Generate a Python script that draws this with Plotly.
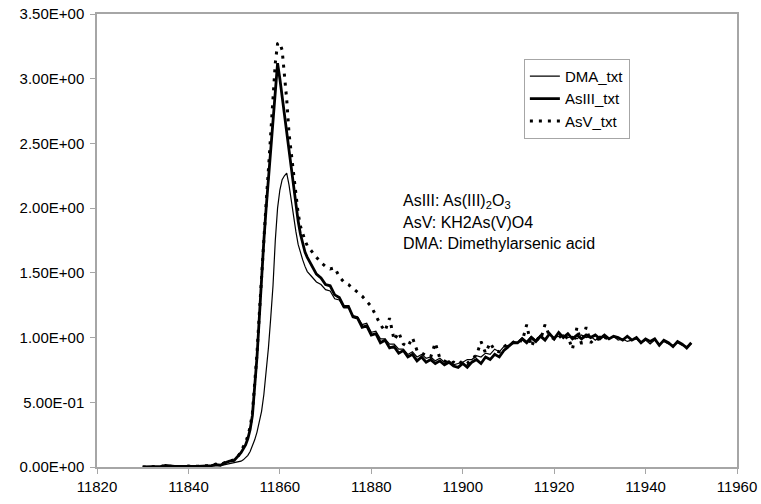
import numpy as np
import plotly.graph_objects as go

# Energy grid (eV): coarse pre-edge, fine edge region, 1 eV post-edge
energy_pre = np.arange(11830, 11852, 1.0)          # 11830 .. 11851
energy_edge = np.arange(11851.5, 11866.01, 0.5)   # 11851.5 .. 11866
energy_post = np.arange(11867, 11951, 1.0)         # 11867 .. 11950
energy = np.concatenate([energy_pre, energy_edge, energy_post])

# Normalised absorption, DMA standard
dma_pre = [0.000, 0.001, 0.002, 0.002, 0.003, 0.008, 0.004, 0.003, 0.004, 0.003, 0.005,
           0.004, 0.004, 0.006, 0.005, 0.008, 0.012, 0.010, 0.018, 0.025, 0.030, 0.038]
dma_edge = [0.045, 0.055, 0.07, 0.09, 0.12, 0.16, 0.21, 0.27, 0.34, 0.43,
            0.56, 0.72, 0.92, 1.15, 1.40, 1.75, 2.00, 2.14, 2.22, 2.25,
            2.27, 2.18, 2.05, 1.93, 1.82, 1.72, 1.65, 1.60, 1.55, 1.51]
dma_post = [1.47, 1.43, 1.41, 1.37, 1.36, 1.30, 1.29, 1.23, 1.23, 1.17,
            1.16, 1.10, 1.11, 1.04, 1.05, 0.99, 0.99, 0.95, 0.95, 0.91,
            0.91, 0.87, 0.89, 0.85, 0.87, 0.84, 0.85, 0.82, 0.84, 0.81,
            0.82, 0.79, 0.80, 0.81, 0.83, 0.83, 0.86, 0.85, 0.88, 0.87,
            0.91, 0.89, 0.93, 0.94, 0.97, 0.96, 1.00, 0.97, 1.01, 0.98,
            1.02, 0.99, 1.02, 1.00, 1.01, 1.02, 1.00, 1.01, 0.99, 1.02,
            1.00, 1.01, 0.98, 1.01, 1.00, 0.99, 1.01, 0.98, 0.99, 0.97,
            0.98, 0.99, 0.96, 0.98, 0.95, 0.98, 0.95, 0.97, 0.95, 0.94,
            0.96, 0.94, 0.93, 0.95]

# Normalised absorption, As(III) standard
as3_pre = [0.000, 0.002, 0.001, 0.003, 0.004, 0.012, 0.006, 0.004, 0.005, 0.003, 0.006,
           0.004, 0.005, 0.007, 0.006, 0.010, 0.018, 0.014, 0.032, 0.045, 0.050, 0.085]
as3_edge = [0.11, 0.14, 0.17, 0.22, 0.29, 0.40, 0.60, 0.85, 1.15, 1.48,
            1.75, 2.00, 2.22, 2.45, 2.70, 2.93, 3.12, 3.00, 2.86, 2.72,
            2.58, 2.45, 2.32, 2.18, 2.03, 1.90, 1.80, 1.72, 1.66, 1.62]
as3_post = [1.55, 1.49, 1.46, 1.41, 1.40, 1.33, 1.31, 1.24, 1.24, 1.16,
            1.15, 1.08, 1.09, 1.02, 1.03, 0.96, 0.98, 0.92, 0.93, 0.88,
            0.90, 0.85, 0.87, 0.82, 0.85, 0.81, 0.83, 0.80, 0.82, 0.79,
            0.81, 0.78, 0.77, 0.80, 0.77, 0.81, 0.83, 0.80, 0.85, 0.83,
            0.87, 0.85, 0.90, 0.93, 0.96, 0.96, 0.99, 0.96, 1.00, 0.97,
            1.01, 0.98, 1.03, 0.99, 1.04, 1.00, 1.03, 0.99, 1.02, 0.99,
            1.02, 1.00, 1.02, 0.99, 1.02, 0.99, 1.01, 1.00, 0.98, 1.01,
            0.98, 1.00, 0.96, 0.99, 0.97, 0.99, 0.94, 0.98, 0.96, 0.93,
            0.97, 0.95, 0.92, 0.96]

# Normalised absorption, As(V) standard (scan ends at 11932 eV)
as5_pre = [0.000, 0.003, 0.001, 0.004, 0.002, 0.015, 0.005, 0.003, 0.006, 0.002, 0.007,
           0.003, 0.006, 0.008, 0.005, 0.012, 0.022, 0.015, 0.035, 0.048, 0.055, 0.090]
as5_edge = [0.12, 0.15, 0.19, 0.24, 0.31, 0.42, 0.62, 0.88, 1.18, 1.50,
            1.78, 2.04, 2.30, 2.58, 2.85, 3.12, 3.27, 3.28, 3.22, 3.05,
            2.84, 2.58, 2.42, 2.24, 2.10, 1.96, 1.86, 1.80, 1.75, 1.71]
as5_post = [1.66, 1.62, 1.58, 1.55, 1.53, 1.54, 1.47, 1.43, 1.41, 1.38,
            1.35, 1.32, 1.28, 1.24, 1.17, 1.10, 1.05, 1.15, 0.98, 1.04,
            0.95, 0.93, 1.00, 0.90, 0.88, 0.86, 0.85, 0.96, 0.84, 0.82,
            0.80, 0.81, 0.79, 0.82, 0.80, 0.84, 0.86, 0.97, 0.88, 0.96,
            0.90, 0.89, 0.93, 0.95, 0.96, 0.99, 0.97, 1.10, 0.93, 1.00,
            0.98, 1.10, 1.01, 0.99, 1.02, 0.98, 1.01, 0.91, 1.08, 0.95,
            1.08, 0.96, 1.00, 0.98, 1.00, 0.99]

dma = dma_pre + dma_edge + dma_post
as3 = as3_pre + as3_edge + as3_post
as5 = as5_pre + as5_edge + as5_post

series_names = ["DMA_txt", "AsIII_txt", "AsV_txt"]

x_ticks = [11820, 11840, 11860, 11880, 11900, 11920, 11940, 11960]
y_ticks = [0.0, 0.5, 1.0, 1.5, 2.0, 2.5, 3.0, 3.5]
y_tick_text = ["0.00E+00", "5.00E-01", "1.00E+00", "1.50E+00",
               "2.00E+00", "2.50E+00", "3.00E+00", "3.50E+00"]

notes = ["AsIII: As(III)<sub>2</sub>O<sub>3</sub>",
         "AsV: KH2As(V)O4",
         "DMA: Dimethylarsenic acid"]

FONT = "Liberation Sans, Arial, sans-serif"
AXIS_GREY = "#a6a6a6"

fig = go.Figure()
fig.add_trace(go.Scatter(x=energy, y=dma, mode="lines", name=series_names[0],
                         line=dict(color="black", width=1.2)))
fig.add_trace(go.Scatter(x=energy, y=as3, mode="lines", name=series_names[1],
                         line=dict(color="black", width=2.8)))
fig.add_trace(go.Scatter(x=energy[:len(as5)], y=as5, mode="lines", name=series_names[2],
                         line=dict(color="black", width=3, dash="3px,6px")))

for i, txt in enumerate(notes):
    fig.add_annotation(text=txt, xref="paper", yref="paper",
                       x=0.475, y=0.585 - i * 0.046, xanchor="left", yanchor="middle",
                       showarrow=False, font=dict(family=FONT, size=16, color="black"))

fig.update_layout(
    width=761, height=504,
    margin=dict(l=97, r=24, t=14, b=37),
    paper_bgcolor="white", plot_bgcolor="white",
    font=dict(family=FONT, size=15, color="black"),
    showlegend=True,
    legend=dict(x=0.667, y=0.901, xanchor="left", yanchor="top",
                bgcolor="white", bordercolor=AXIS_GREY, borderwidth=1,
                font=dict(family=FONT, size=15, color="black"),
                entrywidth=122, tracegroupgap=0),
)
fig.update_xaxes(range=[11820, 11960], tickvals=x_ticks, ticktext=[str(v) for v in x_ticks],
                 showgrid=False, zeroline=False, showline=True, linecolor=AXIS_GREY,
                 linewidth=1.5, mirror=True, ticks="outside", ticklen=5,
                 tickcolor=AXIS_GREY, automargin=False)
fig.update_yaxes(range=[0, 3.5], tickvals=y_ticks, ticktext=y_tick_text,
                 showgrid=False, zeroline=False, showline=True, linecolor=AXIS_GREY,
                 linewidth=1.5, mirror=True, ticks="outside", ticklen=5,
                 tickcolor=AXIS_GREY, ticklabelstandoff=3, automargin=False)

fig.write_html("out.html")
